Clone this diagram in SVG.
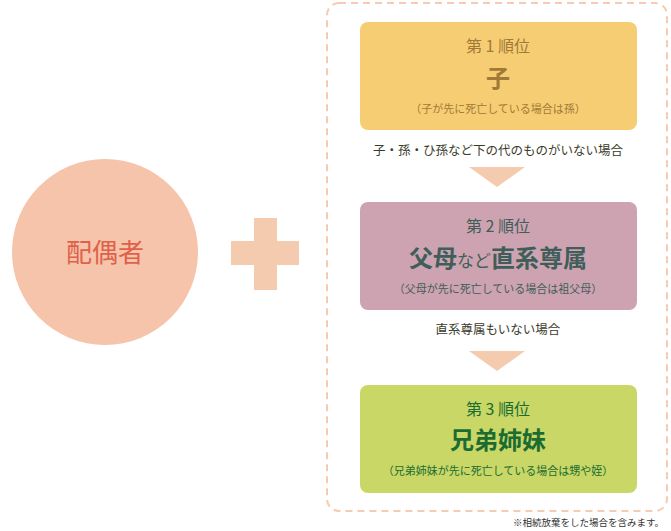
<svg xmlns="http://www.w3.org/2000/svg" width="671" height="531" viewBox="0 0 671 531">
<style>
text{font-family:"Noto Sans CJK JP","Noto Sans",sans-serif;text-anchor:middle}
.h{font-size:16px}.b{font-size:24px;font-weight:bold}.s{font-size:11px}.m{font-size:12.5px;fill:#3a3a2a}
</style>
<rect width="671" height="531" fill="#fff"/>
<rect x="327" y="3" width="340" height="508" rx="12" fill="none" stroke="#f6cbb2" stroke-width="2" stroke-dasharray="7,5"/>
<g id="spouse"><circle cx="105" cy="252" r="93" fill="#f5c4aa"/><text x="105" y="262" font-size="26" fill="#e0614a">配偶者</text></g>
<g id="plus"><rect x="231" y="241" width="68" height="24" fill="#f5cbb0"/><rect x="254" y="218" width="23" height="72" fill="#f5cbb0"/></g>
<g id="rank1"><rect x="360" y="22" width="277" height="108" rx="8" fill="#f6cd73"/>
<text x="498" y="52" class="h" fill="#a27a38">第 1 順位</text><text x="498" y="87" class="b" fill="#a27a38">子</text><text x="498" y="113" class="s" fill="#a27a38">（子が先に死亡している場合は孫）</text></g>
<g id="rank2"><rect x="360" y="202" width="277" height="108" rx="8" fill="#cea3b1"/>
<text x="498" y="232" class="h" fill="#3f5e5a">第 2 順位</text><text x="498" y="267" class="b" fill="#3f5e5a">父母<tspan font-size="17" font-weight="normal">など</tspan>直系尊属</text><text x="498" y="293" class="s" fill="#3f5e5a">（父母が先に死亡している場合は祖父母）</text></g>
<g id="rank3"><rect x="360" y="385" width="277" height="108" rx="8" fill="#c8d766"/>
<text x="498" y="415" class="h" fill="#1c6c32">第 3 順位</text><text x="498" y="449" class="b" fill="#1c6c32">兄弟姉妹</text><text x="498" y="475" class="s" fill="#1c6c32">（兄弟姉妹が先に死亡している場合は甥や姪）</text></g>
<g id="connectors">
<text x="498" y="155" class="m">子・孫・ひ孫など下の代のものがいない場合</text>
<polygon points="469,167 525,167 497,187" fill="#f5cbb0"/>
<text x="498" y="334" class="m">直系尊属もいない場合</text>
<polygon points="469,351 525,351 497,371" fill="#f5cbb0"/>
</g>
<text x="664" y="526" font-size="9.5" fill="#333" style="text-anchor:end">※相続放棄をした場合を含みます。</text>
</svg>
